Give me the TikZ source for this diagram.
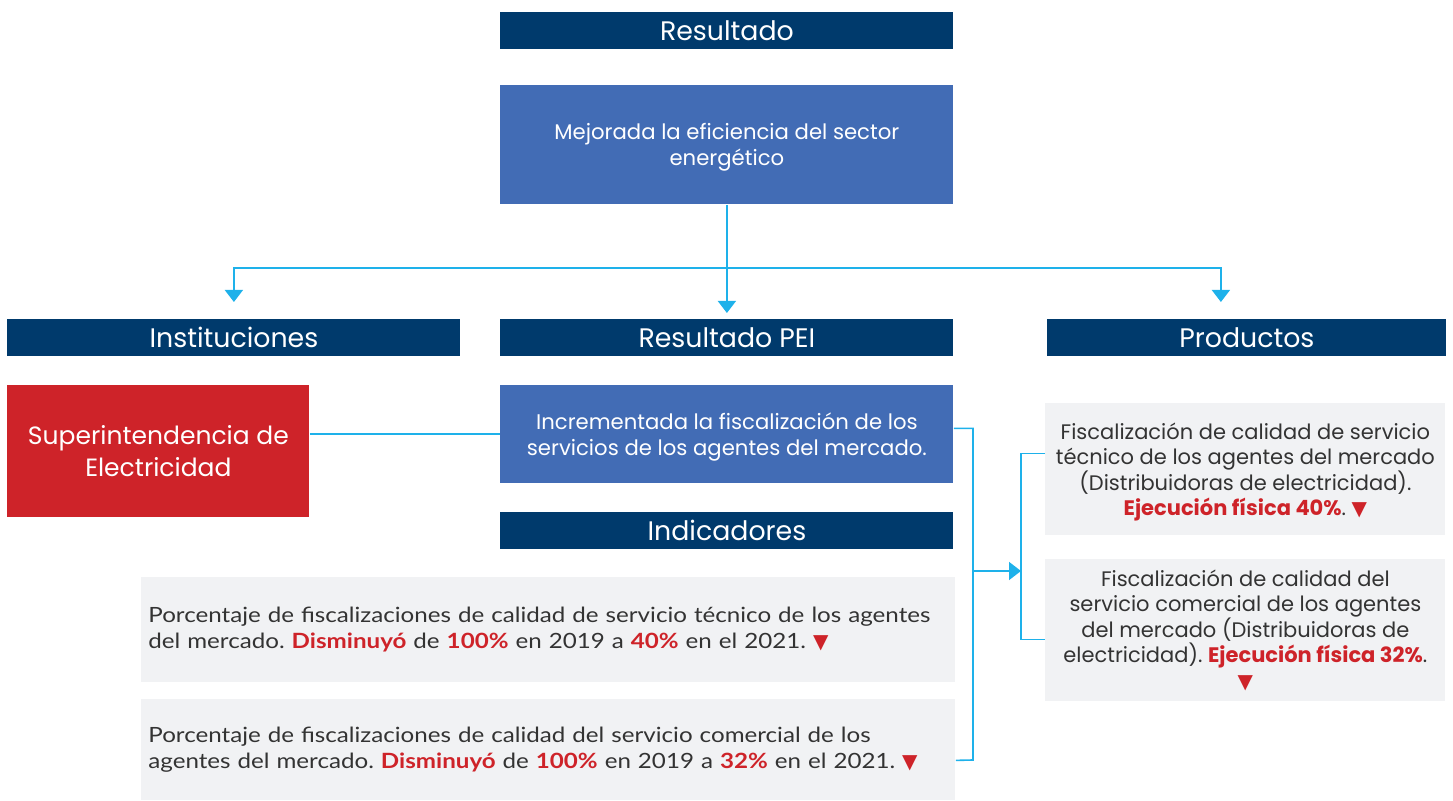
\documentclass[tikz,border=0pt]{standalone}
\usepackage{fontspec}
\setmainfont{Poppins}
\newfontfamily\narrowfont[FakeStretch=1.15]{Lato}
\newfontfamily\symfont{DejaVu Sans}
\usetikzlibrary{arrows.meta}
\definecolor{navy}{HTML}{003A6C}
\definecolor{steel}{HTML}{426CB5}
\definecolor{crimson}{HTML}{CE2329}
\definecolor{paper}{HTML}{F1F2F4}
\definecolor{sky}{HTML}{1EB1EA}
\definecolor{ink}{HTML}{333333}
\frenchspacing
\newcommand{\hot}[1]{\textcolor{crimson}{\bfseries #1}}
\newcommand{\down}{\textcolor{crimson}{{\symfont\fontsize{10}{8}\selectfont ▼}}}
\tikzset{
  header/.style={fill=navy, text=white, inner sep=0pt, anchor=north west,
    minimum height=18.5pt, font=\fontsize{13.4}{15}\selectfont},
  goalbox/.style={fill=steel, text=white, inner sep=0pt, anchor=north west,
    align=center, font=\fontsize{10.6}{13}\selectfont},
  grey/.style={fill=paper, text=ink, inner sep=0pt, anchor=north west},
  link/.style={draw=sky, line width=0.8pt},
  tip/.style={-{Triangle[width=9pt,length=6pt]}}
}
\begin{document}
\begin{tikzpicture}[x=0.5pt,y=-0.5pt]
\useasboundingbox (0,0) rectangle (1453,801);
% headers
\node[header, minimum width=226.5pt] (res) at (500,12) {Resultado};
\node[header, minimum width=226.5pt] (inst) at (7,319) {Instituciones};
\node[header, minimum width=226.5pt] (peih) at (500,319) {Resultado PEI};
\node[header, minimum width=199.5pt] (prodh) at (1047,319) {Productos};
\node[header, minimum width=226.5pt] (indh) at (500,512) {Indicadores};
% blue boxes
\node[goalbox, minimum width=226.5pt, minimum height=59.5pt, text depth=-1.2pt] (goal) at (500,85)
  {Mejorada la eficiencia del sector\\energético};
\node[goalbox, minimum width=226.5pt, minimum height=49pt, text depth=-3pt] (pei) at (500,385)
  {Incrementada la fiscalización de los\\servicios de los agentes del mercado.};
\node[goalbox, fill=crimson, minimum width=151pt, minimum height=66pt,
  font=\fontsize{12.5}{16}\selectfont] (sie) at (7,385)
  {Superintendencia de\\Electricidad};
% indicators
\node[grey, minimum width=407pt, minimum height=52.5pt, align=left, text width=400pt,
  inner xsep=3.5pt, font=\narrowfont\fontsize{10.5}{13}\selectfont] (ind1) at (141,577)
  {Porcentaje de fiscalizaciones de calidad de servicio técnico de los agentes\\
   del mercado. \hot{Disminuyó} de \hot{100\%} en 2019 a \hot{40\%} en el 2021. \down};
\node[grey, minimum width=407pt, minimum height=50.5pt, align=left, text width=400pt,
  inner xsep=3.5pt, font=\narrowfont\fontsize{10.5}{13}\selectfont] (ind2) at (141,699)
  {Porcentaje de fiscalizaciones de calidad del servicio comercial de los\\
   agentes del mercado. \hot{Disminuyó} de \hot{100\%} en 2019 a \hot{32\%} en el 2021. \down};
% products
\node[grey, minimum width=200pt, minimum height=66pt, align=center, text depth=-4.5pt,
  font=\fontsize{10.5}{12.75}\selectfont] (prod1) at (1045,403)
  {Fiscalización de calidad de servicio\\técnico de los agentes del mercado\\
   (Distribuidoras de electricidad).\\\hot{Ejecución física 40\%}. \down};
\node[grey, minimum width=200pt, minimum height=71pt, align=center,
  font=\fontsize{10.5}{12.75}\selectfont] (prod2) at (1045,559)
  {Fiscalización de calidad del\\servicio comercial de los agentes\\
   del mercado (Distribuidoras de\\electricidad). \hot{Ejecución física 32\%}.\\\down};
% connectors
\coordinate (split) at (727,268);
\coordinate (fork) at (1021,571);
\draw[link, tip, shorten >=3pt] (goal.south) -- (peih.north);
\draw[link, tip] (split) -| ([yshift=8.5pt]inst.north);
\draw[link, tip] (split) -| ([xshift=-13pt,yshift=8.5pt]prodh.north);
\draw[link] (sie.east |- 0,434) -- (pei.west |- 0,434);
\draw[link] ([yshift=3pt]pei.east) -| (973,760) -- ([yshift=-5.25pt]ind2.east);
\draw[link, tip] (973,571) -- (fork);
\draw[link] ([yshift=8pt]prod1.west) -| (fork) |- ([yshift=-4.5pt]prod2.west);
\end{tikzpicture}
\end{document}
